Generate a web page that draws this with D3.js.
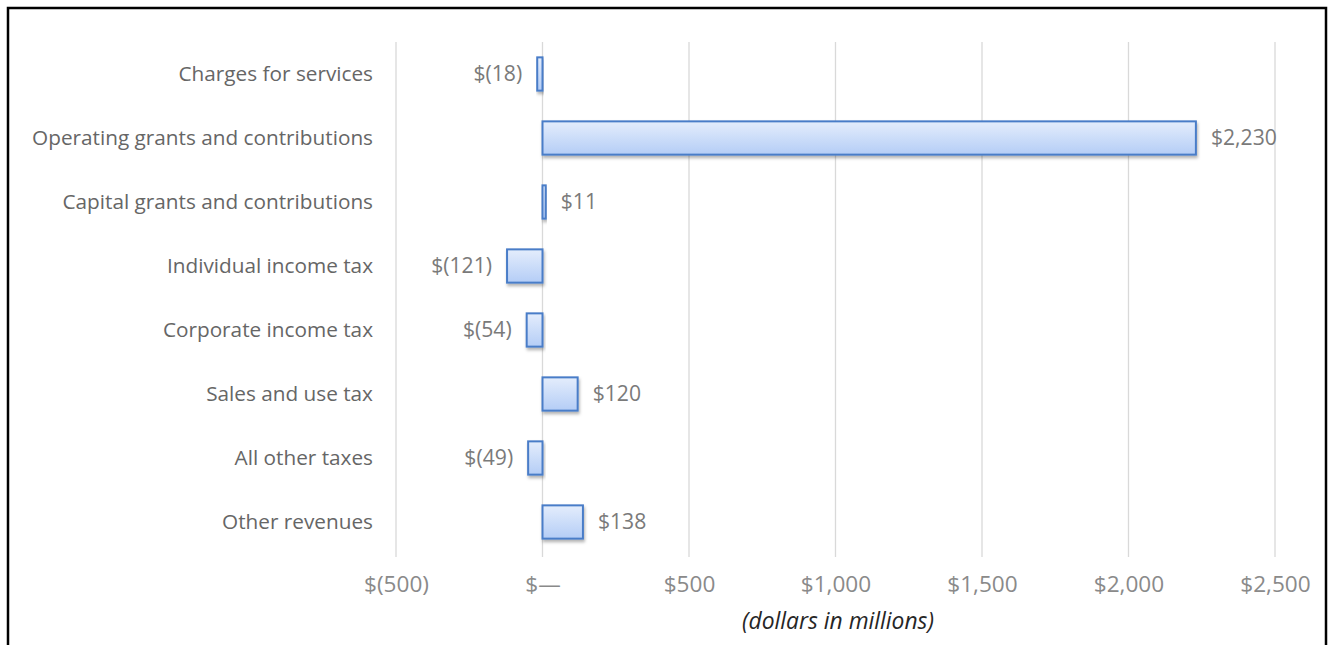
<!DOCTYPE html>
<html><head><meta charset="utf-8">
<script src="https://cdn.jsdelivr.net/npm/d3@7"></script>
<style>
html,body{margin:0;padding:0;background:#fff;}
svg text{font-family:"Open Sans",Lato,sans-serif;}
</style></head>
<body>
<svg id="chart" width="1328" height="645"></svg>
<script>
const categories = ["Charges for services","Operating grants and contributions","Capital grants and contributions","Individual income tax","Corporate income tax","Sales and use tax","All other taxes","Other revenues"];
const values = [-18, 2230, 11, -121, -54, 120, -49, 138];
const tickValues = [-500, 0, 500, 1000, 1500, 2000, 2500];
const axisTitle = "(dollars in millions)";

const svg = d3.select("#chart");
const fmt = v => v === 0 ? "$\u2014" : (v < 0 ? "$(" + d3.format(",")(-v) + ")" : "$" + d3.format(",")(v));

// font size fitted so a reference string spans a given width
function fitSize(str, targetW, italic) {
  const t = svg.append("text").attr("font-size", 20).attr("font-style", italic ? "italic" : "normal").text(str);
  const w = t.node().getComputedTextLength();
  t.remove();
  return 20 * targetW / w;
}
const catSize = fitSize("Operating grants and contributions", 341);
const lblSize = fitSize("$2,230", 66);
const tickSize = fitSize("$(500)", 65);
const titleSize = fitSize(axisTitle, 192, true);

// border
svg.append("rect").attr("x",8).attr("y",8).attr("width",1318).attr("height",650)
  .attr("fill","none").attr("stroke","#000").attr("stroke-width",2.5);

const x = d3.scaleLinear().domain([-500,2500]).range([396,1275]);
const y = d3.scaleBand().domain(categories).range([42,554]).paddingInner(0.48).paddingOuter(0.24);

const defs = svg.append("defs");
const grad = defs.append("linearGradient").attr("id","barGrad").attr("x1",0).attr("y1",0).attr("x2",0).attr("y2",1);
grad.append("stop").attr("offset","0%").attr("stop-color","#e4edfc");
grad.append("stop").attr("offset","100%").attr("stop-color","#b4cdf6");
const filt = defs.append("filter").attr("id","shadow").attr("x","-20%").attr("y","-20%").attr("width","140%").attr("height","160%");
filt.append("feDropShadow").attr("dx",1).attr("dy",2.5).attr("stdDeviation",1.5).attr("flood-color","#000").attr("flood-opacity",0.3);

// gridlines
svg.append("g").selectAll("line").data(tickValues).join("line")
  .attr("x1",d=>x(d)).attr("x2",d=>x(d)).attr("y1",42).attr("y2",557)
  .attr("stroke","#d9d9d9").attr("stroke-width",1.3);

// x axis labels
const xAxis = d3.axisBottom(x).tickValues(tickValues).tickFormat(fmt).tickSize(0).tickPadding(0);
const gx = svg.append("g").attr("transform","translate(0,584)").call(xAxis);
gx.select(".domain").remove();
gx.selectAll("text").attr("fill","#8a8a8a").attr("font-size",tickSize+"px").attr("dy","0.35em");

// y axis labels
const yAxis = d3.axisLeft(y).tickSize(0).tickPadding(0);
const gy = svg.append("g").attr("transform","translate(373,0)").call(yAxis);
gy.select(".domain").remove();
gy.selectAll("text").attr("fill","#666666").attr("font-size",catSize+"px");

// bars
svg.append("g").selectAll("rect").data(values).join("rect")
  .attr("x",d=>x(Math.min(0,d))).attr("y",(d,i)=>y(categories[i]))
  .attr("width",d=>Math.abs(x(d)-x(0))).attr("height",y.bandwidth())
  .attr("fill","url(#barGrad)").attr("stroke","#4a7dc8").attr("stroke-width",2)
  .attr("filter","url(#shadow)");

// data labels
svg.append("g").selectAll("text").data(values).join("text")
  .attr("x",d=> d<0 ? x(d)-15 : x(d)+15)
  .attr("y",(d,i)=>y(categories[i])+y.bandwidth()/2)
  .attr("dy","0.35em")
  .attr("text-anchor",d=>d<0?"end":"start")
  .attr("fill","#7a7a7a").attr("font-size",lblSize+"px")
  .text(fmt);

svg.append("text").attr("x",838).attr("y",621).attr("dy","0.35em").attr("text-anchor","middle")
  .attr("font-style","italic").attr("font-size",titleSize+"px").attr("fill","#262626").text(axisTitle);
</script>
</body></html>
